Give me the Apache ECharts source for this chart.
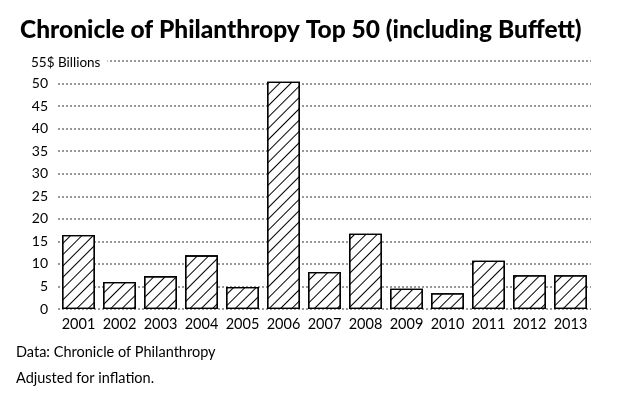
<!DOCTYPE html>
<html><head><meta charset="utf-8">
<script src="https://cdn.jsdelivr.net/npm/echarts@6/dist/echarts.min.js"></script>
<style>html,body{margin:0;padding:0;background:#fff}#c{width:630px;height:400px}</style>
</head><body><div id="c"></div>
<script>
var years = ['2001','2002','2003','2004','2005','2006','2007','2008','2009','2010','2011','2012','2013'];
var giving = [16.4, 6.0, 7.3, 11.9, 4.9, 50.4, 8.2, 16.7, 4.5, 3.5, 10.7, 7.5, 7.5];
var yTicks = [0,5,10,15,20,25,30,35,40,45,50,55];
var topLabel = '55$ Billions';

var chart = echarts.init(document.getElementById('c'));
chart.setOption({
  animation: false,
  backgroundColor: '#fff',
  title: {
    text: 'Chronicle of Philanthropy Top 50 (including Buffett)',
    left: 15, top: 13,
    textStyle: {fontFamily: 'Lato', fontWeight: 900, fontSize: 24.5, color: '#000'}
  },
  grid: {left: 58, right: 39, top: 61, bottom: 91},
  xAxis: {
    type: 'category', data: years,
    axisLine: {show: false}, axisTick: {show: false},
    axisLabel: {interval: 0, fontFamily: 'Lato', fontSize: 14.5, color: '#000', margin: 8}
  },
  yAxis: {
    type: 'value', min: 0, max: 55, interval: 5,
    axisLine: {show: false}, axisTick: {show: false},
    axisLabel: {fontFamily: 'Lato', fontSize: 14, color: '#000', margin: 10,
      formatter: function (v) { return v === 55 ? '' : String(v); }},
    splitLine: {lineStyle: {color: '#777', type: [2, 2], width: 1.5}}
  },
  graphic: [
    {type: 'text', left: 31, top: 55, z: 100,
     style: {text: topLabel, fontFamily: 'Lato', fontSize: 13.5, fill: '#000',
       backgroundColor: '#fff', padding: [1, 7, 1, 0]}},
    {type: 'text', left: 16, top: 345,
     style: {text: 'Data: Chronicle of Philanthropy', fontFamily: 'Lato', fontSize: 14.5, fill: '#000'}},
    {type: 'text', left: 16, top: 371,
     style: {text: 'Adjusted for inflation.', fontFamily: 'Lato', fontSize: 14.5, fill: '#000'}}
  ],
  series: [{
    type: 'bar', data: giving, barCategoryGap: '20%',
    itemStyle: {
      color: '#fff', borderColor: '#000', borderWidth: 1.3,
      decal: {symbol: 'rect', color: '#000', dashArrayX: [1, 0], dashArrayY: [1, 7], rotation: -Math.PI / 4, symbolSize: 1}
    }
  }]
});
</script></body></html>
